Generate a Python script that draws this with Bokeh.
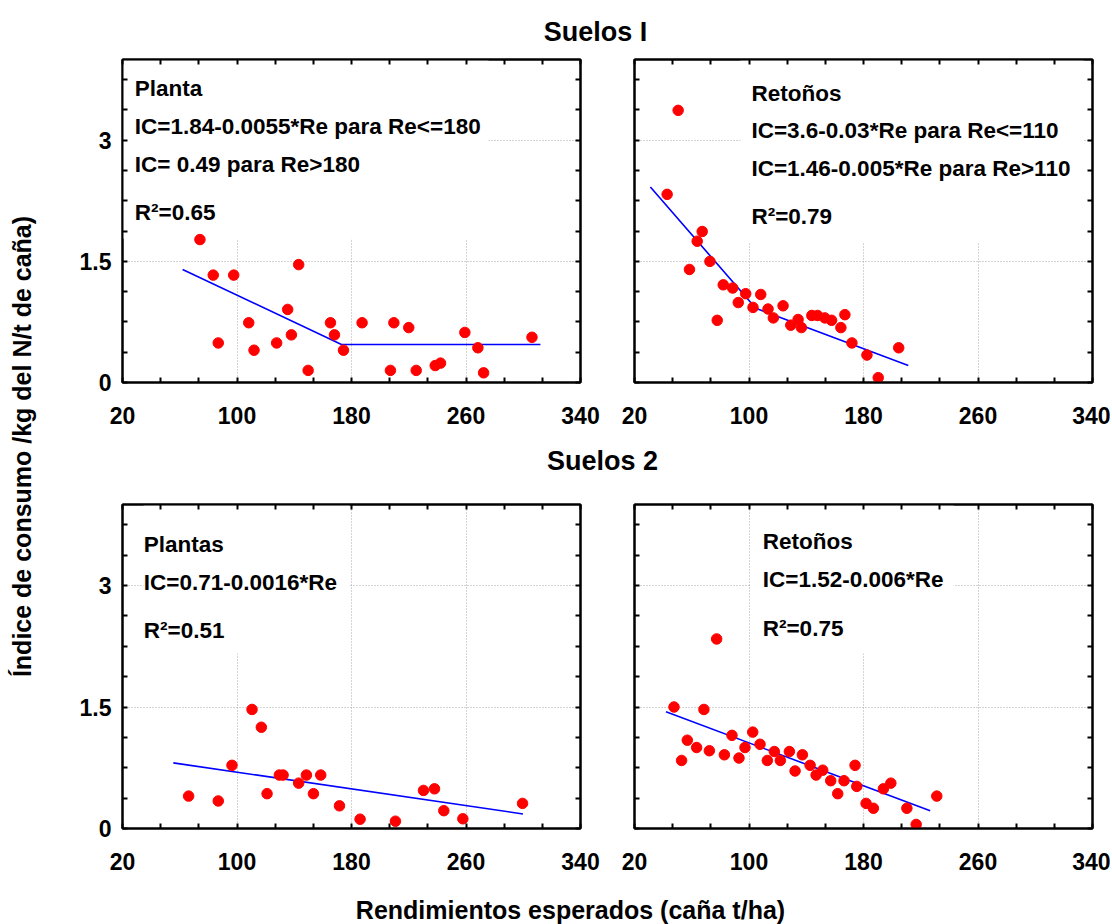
from math import pi
from bokeh.plotting import figure
from bokeh.models import Range1d, LinearAxis, FixedTicker, Label, BoxAnnotation
from bokeh.layouts import row, column
from bokeh.embed import file_html
from bokeh.resources import INLINE

# ---------------- data ----------------
x_major = [20, 100, 180, 260, 340]
x_minor = [46.67, 73.33, 126.67, 153.33, 206.67, 233.33, 286.67, 313.33]
y_major = [0, 1.5, 3]
y_minor = [0.375, 0.75, 1.125, 1.875, 2.25, 2.625, 3.375, 3.75]
x_grid = [100, 180, 260]
y_grid = [1.5, 3]

# Suelos I - Planta
s1p_x = [74.1, 83.4, 97.7, 86.9, 108.2, 111.9, 127.7, 135.4, 138.0, 143.1, 149.7, 165.3, 168.1,
         174.4, 187.4, 207.2, 209.6, 220.0, 225.2, 238.5, 242.2, 259.2, 268.3, 272.3, 306.1]
s1p_y = [1.77, 1.33, 1.33, 0.49, 0.74, 0.40, 0.49, 0.905, 0.59, 1.46, 0.15, 0.74, 0.59,
         0.40, 0.74, 0.15, 0.74, 0.68, 0.15, 0.21, 0.24, 0.62, 0.43, 0.12, 0.56]
s1p_fit_x = [62, 173, 312]
s1p_fit_y = [1.40, 0.47, 0.47]

# Suelos I - Retoños
s1r_x = [50.5, 42.8, 67.3, 63.8, 58.4, 72.7, 77.8, 82.0, 88.6, 92.5, 97.7, 102.8, 108.2, 113.3,
         117.0, 123.8, 129.2, 134.3, 136.6, 143.9, 147.9, 153.0, 157.7, 164.2, 167.0, 171.9,
         182.4, 190.3, 204.6]
s1r_y = [3.37, 2.33, 1.87, 1.75, 1.40, 1.50, 0.77, 1.21, 1.17, 0.99, 1.10, 0.93, 1.09, 0.91,
         0.80, 0.95, 0.71, 0.78, 0.68, 0.83, 0.83, 0.80, 0.77, 0.68, 0.84, 0.49,
         0.34, 0.06, 0.43]
s1r_fit_x = [31.1, 104.7, 211.3]
s1r_fit_y = [2.42, 0.92, 0.21]

# Suelos 2 - Plantas
s2p_x = [66.2, 86.9, 96.5, 110.5, 117.0, 121.0, 129.6, 132.2, 143.1, 148.5, 153.4, 158.5,
         171.6, 186.0, 210.7, 230.3, 238.0, 244.5, 257.8, 299.5]
s2p_y = [0.40, 0.34, 0.78, 1.47, 1.25, 0.43, 0.66, 0.66, 0.56, 0.66, 0.43, 0.66,
         0.28, 0.115, 0.09, 0.47, 0.49, 0.22, 0.12, 0.31]
s2p_fit_x = [55.5, 299.8]
s2p_fit_y = [0.81, 0.18]

# Suelos 2 - Retoños
s2r_x = [47.6, 52.9, 56.9, 63.4, 68.5, 72.3, 77.4, 82.8, 88.1, 93.0, 97.2, 102.6, 107.7, 112.8,
         117.7, 121.9, 128.2, 132.2, 137.3, 142.7, 146.9, 151.5, 157.1, 162.0, 166.4, 174.1,
         175.3, 181.8, 186.9, 193.9, 199.1, 210.3, 216.8, 231.2]
s2r_y = [1.50, 0.84, 1.09, 1.00, 1.47, 0.96, 2.34, 0.91, 1.15, 0.87, 1.00, 1.19, 1.04, 0.84,
         0.95, 0.84, 0.95, 0.71, 0.91, 0.78, 0.66, 0.72, 0.59, 0.43, 0.59, 0.78,
         0.52, 0.31, 0.25, 0.49, 0.56, 0.25, 0.05, 0.40]
s2r_fit_x = [42.0, 226.6]
s2r_fit_y = [1.44, 0.22]

s1p_text = ["Planta", "IC=1.84-0.0055*Re para Re<=180", "IC= 0.49 para Re>180", "R²=0.65"]
s1r_text = ["Retoños", "IC=3.6-0.03*Re para Re<=110", "IC=1.46-0.005*Re para Re>110", "R²=0.79"]
s2p_text = ["Plantas", "IC=0.71-0.0016*Re", "R²=0.51"]
s2r_text = ["Retoños", "IC=1.52-0.006*Re", "R²=0.75"]

titles = ["Suelos I", "Suelos 2"]
x_title = "Rendimientos esperados (caña t/ha)"
y_title = "Índice de consumo /kg del N/t de caña)"

FONT = "Liberation Sans"


def ticks_only(ax, major, minor):
    ax.ticker = FixedTicker(ticks=major, minor_ticks=minor)
    ax.major_tick_in = 5
    ax.major_tick_out = 0
    ax.minor_tick_in = 5
    ax.minor_tick_out = 0
    ax.major_tick_line_width = 2
    ax.minor_tick_line_width = 2
    ax.major_tick_line_color = "black"
    ax.minor_tick_line_color = "black"
    ax.axis_line_width = 2
    ax.axis_line_color = "black"
    ax.major_label_text_font = FONT
    ax.major_label_text_font_style = "bold"
    ax.major_label_text_font_size = "23px"
    ax.major_label_text_color = "black"


def build(xs, ys, fx, fy, texts, tx, tys, box, width, height, bl, br, bt, bb, ylabels):
    p = figure(width=width, height=height, x_range=Range1d(20, 340), y_range=Range1d(0, 4),
               toolbar_location=None, output_backend="svg", title=None,
               min_border_left=bl, min_border_right=br, min_border_top=bt, min_border_bottom=bb)
    p.outline_line_color = "black"
    p.outline_line_width = 2
    p.background_fill_color = "white"
    p.border_fill_color = "white"

    xa = p.below[0]
    ya = p.left[0]
    ticks_only(xa, x_major, x_minor)
    xa.major_label_standoff = 24
    if ylabels:
        ticks_only(ya, y_major, y_minor)
        ya.major_label_standoff = 11
    else:
        ticks_only(ya, [], y_major + y_minor)

    top = LinearAxis()
    right = LinearAxis()
    ticks_only(top, [], x_major + x_minor)
    ticks_only(right, [], y_major + y_minor)
    p.add_layout(top, "above")
    p.add_layout(right, "right")

    p.xgrid.ticker = FixedTicker(ticks=x_grid)
    p.ygrid.ticker = FixedTicker(ticks=y_grid)
    for g in (p.xgrid[0], p.ygrid[0]):
        g.grid_line_color = "#a8a8a8"
        g.grid_line_dash = "1 2"
        g.grid_line_width = 1

    p.add_layout(BoxAnnotation(left=box[0], right=box[1], bottom=box[2], top=3.99,
                               fill_color="white", fill_alpha=1.0, line_color=None,
                               level="underlay"))

    p.line(fx, fy, line_color="#0000ff", line_width=1.6)
    p.scatter(xs, ys, marker="circle", size=10.5, fill_color="#ff0000", line_color="#ff0000")

    for t, ty in zip(texts, tys):
        p.add_layout(Label(x=tx, y=ty, text=t, text_font=FONT, text_font_style="bold",
                           text_font_size="22.5px", text_color="black",
                           text_baseline="middle", text_align="left"))
    return p


A = build(s1p_x, s1p_y, s1p_fit_x, s1p_fit_y, s1p_text, 28.6, [3.643, 3.176, 2.702, 2.103],
          (20, 275.7, 1.78), 558, 388, 74, 26, 11, 54, True)
B = build(s1r_x, s1r_y, s1r_fit_x, s1r_fit_y, s1r_text, 101.7, [3.576, 3.115, 2.648, 2.050],
          (94.1, 333.7, 1.73), 504, 388, 28, 18, 11, 54, False)
C = build(s2p_x, s2p_y, s2p_fit_x, s2p_fit_y, s2p_text, 34.9, [3.509, 3.035, 2.447],
          (34.7, 178.6, 2.16), 558, 390, 74, 26, 12, 54, True)
D = build(s2r_x, s2r_y, s2r_fit_x, s2r_fit_y, s2r_text, 109.6, [3.541, 3.068, 2.472],
          (101.0, 242.9, 2.16), 504, 390, 28, 18, 12, 54, False)


def strip(width, height):
    s = figure(width=width, height=height, x_range=Range1d(0, width), y_range=Range1d(0, height),
               x_axis_type=None, y_axis_type=None, toolbar_location=None, output_backend="svg",
               min_border=0, title=None)
    s.outline_line_color = None
    s.background_fill_color = "white"
    s.border_fill_color = "white"
    return s


T1 = strip(1062, 48)
T1.add_layout(Label(x=547, y=16.7, text=titles[0], text_font=FONT, text_font_style="bold",
                    text_font_size="27px", text_align="center", text_baseline="middle",
                    text_color="black"))
T2 = strip(1062, 56)
T2.add_layout(Label(x=554, y=31.2, text=titles[1], text_font=FONT, text_font_style="bold",
                    text_font_size="27px", text_align="center", text_baseline="middle",
                    text_color="black"))
X = strip(1062, 42)
X.add_layout(Label(x=522, y=14.5, text=x_title, text_font=FONT, text_font_style="bold",
                   text_font_size="25px", text_align="center", text_baseline="middle",
                   text_color="black"))
L = strip(48, 924)
L.add_layout(Label(x=21, y=478, text=y_title, text_font=FONT, text_font_style="bold",
                   text_font_size="25px", text_align="center", text_baseline="middle",
                   angle=pi / 2, text_color="black"))

layout = row(L, column(T1, row(A, B), T2, row(C, D), X))

open("out.html", "w").write(file_html(layout, INLINE))
